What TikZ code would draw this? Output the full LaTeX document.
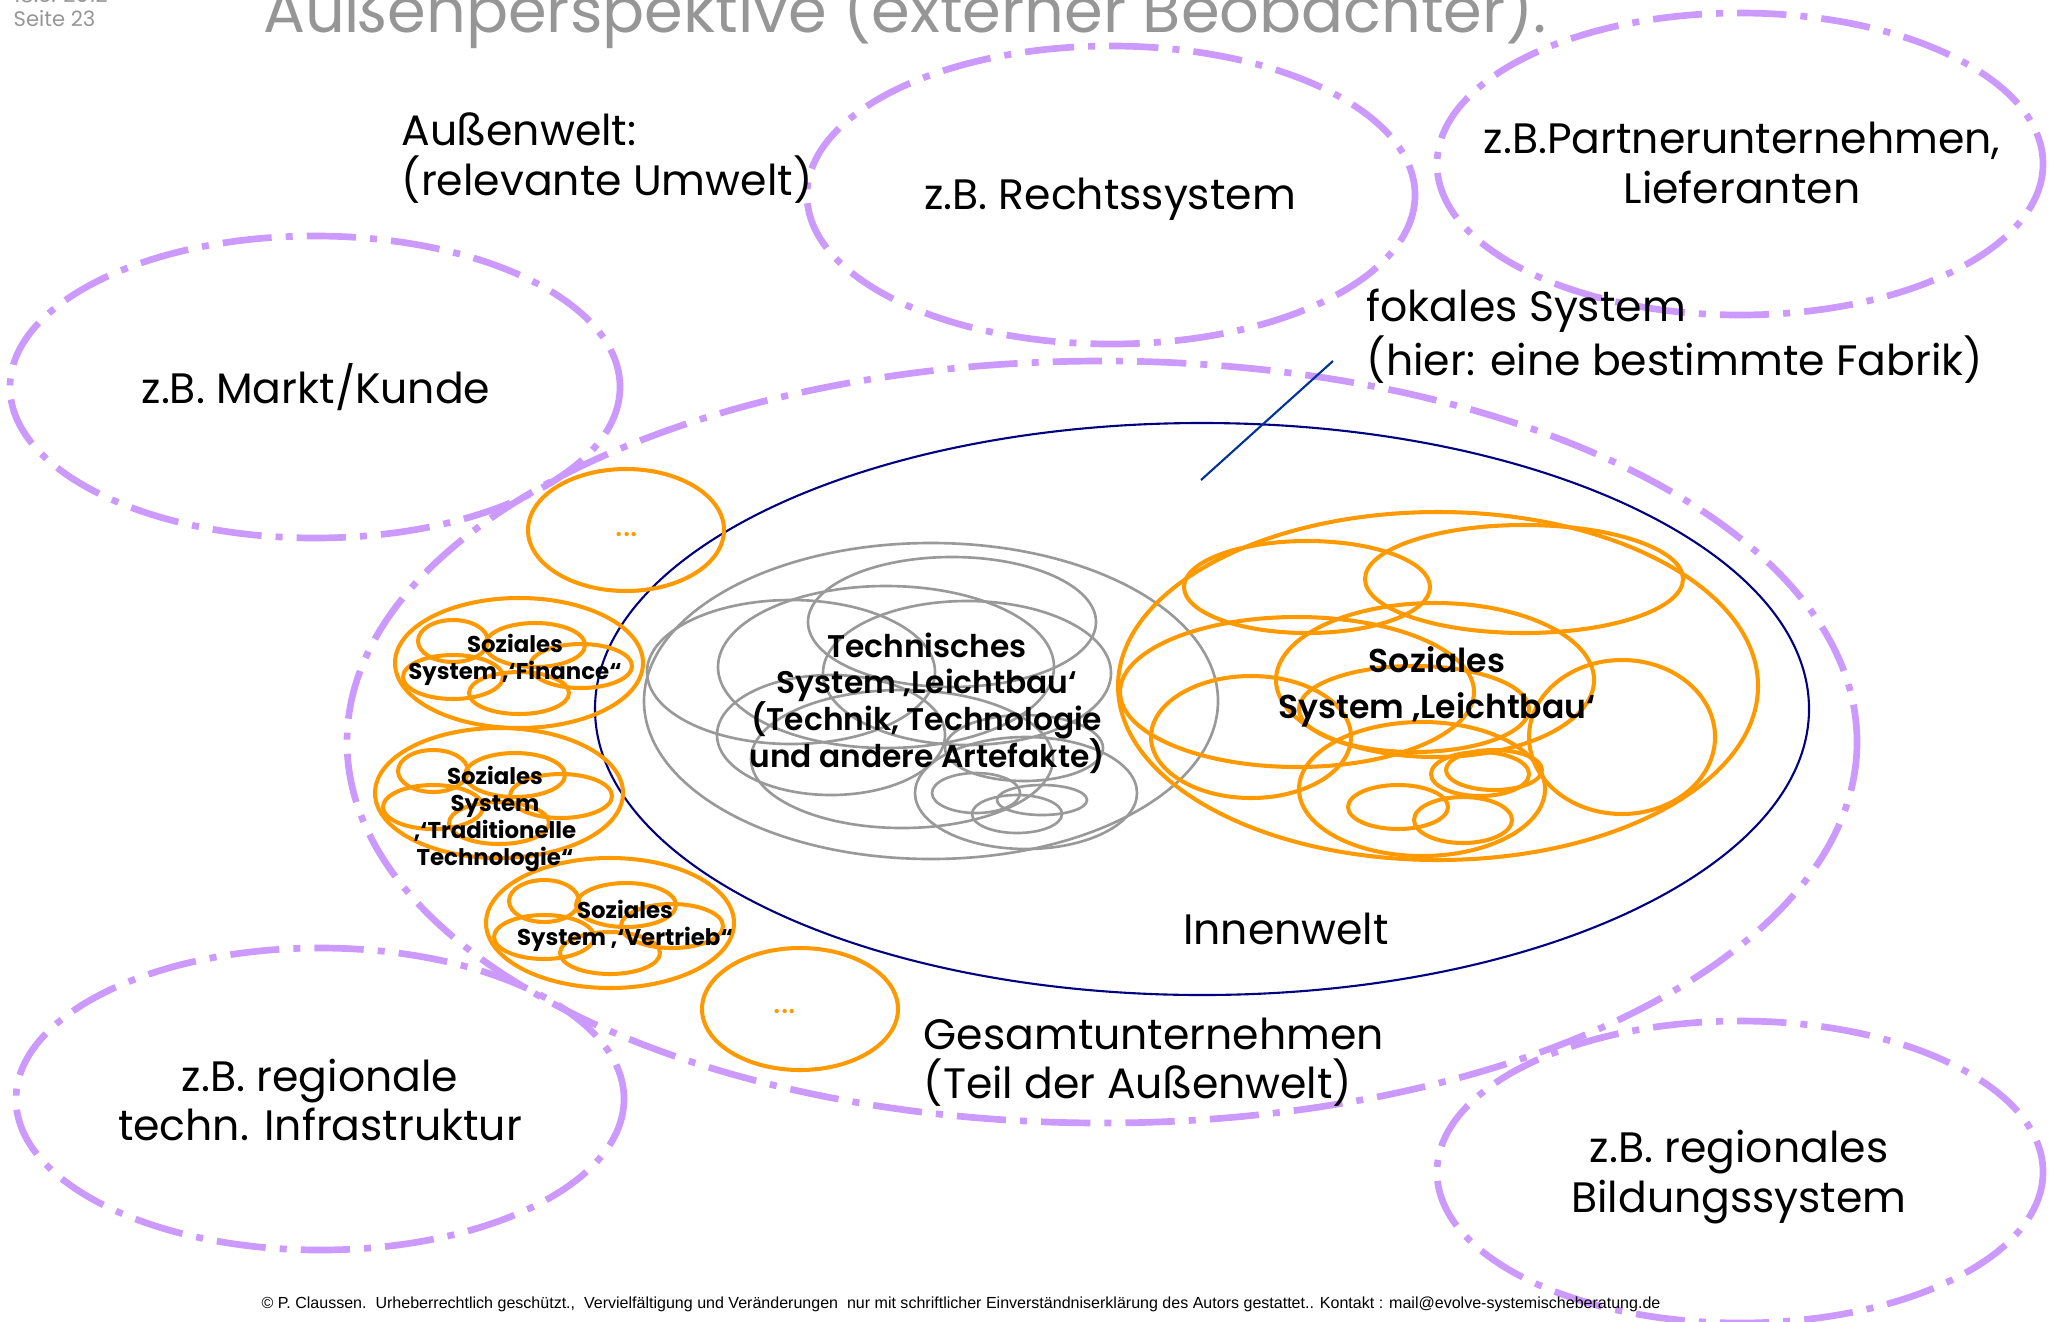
\documentclass[tikz,border=0pt]{standalone}
\usepackage{fontspec}
\setmainfont{Poppins}
\newfontfamily\mittelfont{Poppins}[UprightFont=* Medium,BoldFont=* SemiBold]
\newfontfamily\fussfont{Liberation Sans}
\newcommand\engzeilen{\lineskiplimit=-20pt\relax}
\usetikzlibrary{positioning}
\definecolor{UmweltLila}{RGB}{204,153,255}
\definecolor{SozialOrange}{RGB}{255,153,0}
\definecolor{TechnikGrau}{RGB}{153,153,153}
\definecolor{FabrikBlau}{RGB}{0,0,128}
\definecolor{ZeigerBlau}{RGB}{0,51,153}
\definecolor{KopfGrau}{RGB}{150,150,150}

\begin{document}
\begin{tikzpicture}[x=0.01cm,y=-0.01cm,
  umwelt/.style={UmweltLila,line width=1.9pt,dash pattern=on 14pt off 4pt on 2pt off 4pt},
  sozial/.style={SozialOrange,line width=1.15pt},
  technik/.style={TechnikGrau,line width=0.75pt},
  gross/.style={font=\fontsize{12.1}{14}\selectfont,align=center,inner sep=0pt},
  klein/.style={font=\fontsize{6.5}{7.7}\selectfont\bfseries,align=center,inner sep=0pt}]
  \useasboundingbox (0,0) rectangle (2058,1321);
  \clip (0,0) rectangle (2058,1321);

  % Umwelten
  \foreach \x/\y/\a/\b in {1111/195/304/149,1740/164/303/151,315/387/305/151,
      1102/742/755/381,320/1099/304/151,1740/1172/303/151}
    \draw[umwelt] (\x,\y) ellipse [x radius=\a,y radius=\b];

  % fokales System
  \draw[FabrikBlau,line width=0.6pt] (1202,709) ellipse [x radius=607,y radius=286];

  % technisches System
  \foreach \x/\y/\a/\b in {931/701/287/158,791/672/144/72,886/667/168/81,
      952/622/144/65,967/673/144/72,831/735/114/60,902/759/151/69,
      1026/793/111/56,1024/748/79/33,976/793/44/20,1042/800/45/15,1017/814/45/19}
    \draw[technik] (\x,\y) ellipse [x radius=\a,y radius=\b];

  % soziales System Leichtbau
  \foreach \x/\y/\a/\b in {1438/686/320/174,1307/587/123/46,1524/579/159/54,
      1297/692/177/75,1435/680/159/77,1251/737/100/61,1414/709/115/43,
      1622/737/93/77,1422/789/123/67,1480/774/49/22,1494/770/48/20,
      1398/807/50/22,1463/820/49/23}
    \draw[sozial] (\x,\y) ellipse [x radius=\a,y radius=\b];

  % weitere soziale Systeme
  \foreach \cx/\cy in {519/663,499/793,610/923}{
    \draw[sozial] (\cx,\cy) ellipse [x radius=124,y radius=65];
    \foreach \dx/\dy/\a/\b in {-66/-22/35/21,16/-18/50/22,62/3/51/22,-66/14/50/22,0/30/50/21}
      \draw[sozial] (\cx+\dx,\cy+\dy) ellipse [x radius=\a,y radius=\b];
  }
  \draw[sozial] (626,530) ellipse [x radius=98,y radius=61];
  \draw[sozial] (800,1009) ellipse [x radius=98,y radius=61];

  \coordinate (fokpin) at (1201,480);
  \coordinate (fokend) at (1333,361);
  \draw[ZeigerBlau,line width=0.6pt] (fokpin) -- (fokend);

  % Texte
  \node[anchor=base west,text=KopfGrau,font=\fontsize{17.7}{20}\selectfont,inner sep=0pt] (titel) at (263,32) {Außenperspektive (externer Beobachter).};
  \node[anchor=base west,text=KopfGrau,font=\fontsize{6}{8}\selectfont,inner sep=0pt] (datum) at (13,2) {18.5. 2012};
  \node[anchor=base west,text=KopfGrau,font=\fontsize{6}{8}\selectfont,inner sep=0pt] (seite) at (13,27) {Seite 23};

  \node[gross] (recht) at (1110,199) {z.B. Rechtssystem};
  \node[gross] (partner) at (1742,163) {z.B.Partnerunternehmen,\\Lieferanten};
  \node[gross] (markt) at (316,387) {z.B. Markt/Kunde};
  \node[gross] (infra) at (320,1100) {z.B. regionale\\techn. Infrastruktur};
  \node[gross] (bildung) at (1739,1177) {z.B. regionales\\Bildungssystem};
  \node[gross,align=left,anchor=west] (aussen) at (401,158) {Außenwelt:\\(relevante Umwelt)};
  \node[gross,align=left,anchor=west] (fokal) at (1366,336) {fokales System\\(hier: eine bestimmte Fabrik)};
  \node[gross,align=left,anchor=west] (gesamt) at (923,1062) {Gesamtunternehmen\\(Teil der Außenwelt)};
  \node[gross] (innen) at (1286,929) {Innenwelt};

  \node[font=\mittelfont\bfseries\fontsize{8.9}{10.4}\selectfont\engzeilen,align=center,inner sep=0pt] (technik) at (927,703)
    {Technisches\\System ‚Leichtbau‘\\(Technik, Technologie\\und andere Artefakte)};
  \node[font=\mittelfont\bfseries\fontsize{9.4}{13}\selectfont,align=center,inner sep=0pt] (leicht) at (1437,687)
    {Soziales\\System ‚Leichtbau‘};
  \node[klein] (finance) at (515,660) {Soziales\\System ,‘Finance“};
  \node[klein] (tradition) at (495,819) {Soziales\\System\\,‘Traditionelle\\Technologie“};
  \node[klein] (vertrieb) at (625,926) {Soziales\\System ,‘Vertrieb“};
  \node[text=SozialOrange,font=\fontsize{10}{12}\selectfont] (mehr1) at (627,535) {...};
  \node[text=SozialOrange,font=\fontsize{10}{12}\selectfont] (mehr2) at (785,1012) {...};

  \node[anchor=base,font=\fussfont\fontsize{4.56}{5}\selectfont,inner sep=0pt] (fuss) at (961,1308)
    {© P. Claussen.\ \ Urheberrechtlich geschützt.,\ \ Vervielfältigung und Veränderungen\ \ nur mit schriftlicher Einverständniserklärung des Autors gestattet.. Kontakt : mail@evolve-systemischeberatung.de};
\end{tikzpicture}
\end{document}
